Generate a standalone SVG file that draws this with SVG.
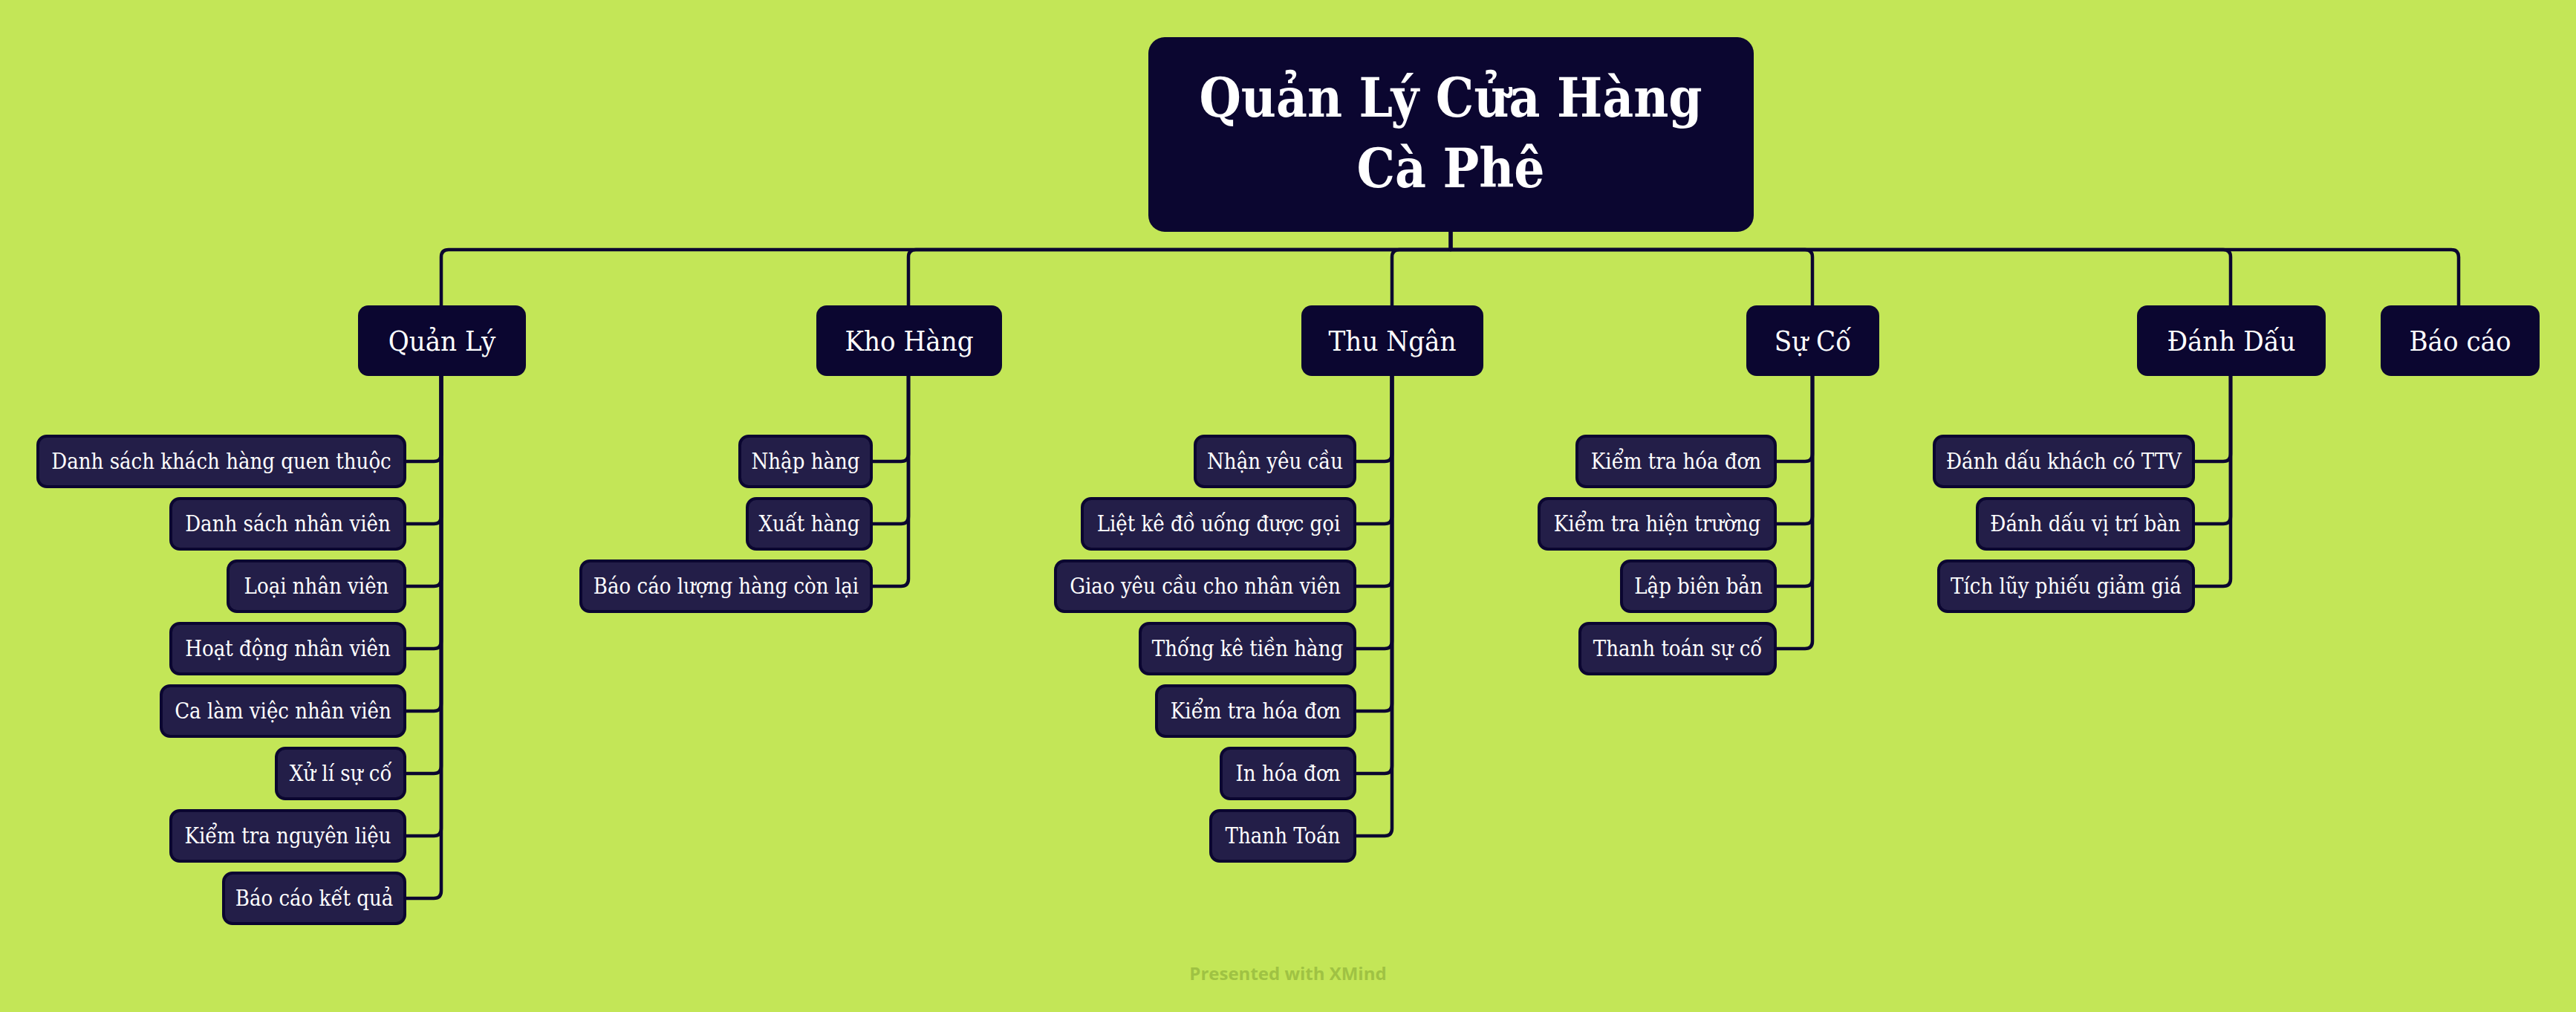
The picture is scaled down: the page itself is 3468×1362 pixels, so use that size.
<svg xmlns="http://www.w3.org/2000/svg" width="3468" height="1362" viewBox="0 0 3468 1362">
<style>
.bg{fill:#c3e657}
.root{fill:#0b0630}
.main{fill:#0b0630}
.sub{fill:#231e48;stroke:#0b0630;stroke-width:4}
.t0{font-family:"DejaVu Serif","Liberation Serif",serif;font-weight:bold;font-size:72px;fill:#ffffff;text-anchor:middle;font-stretch:condensed}
.t1{font-family:"DejaVu Serif","Liberation Serif",serif;font-size:38px;fill:#ffffff;text-anchor:middle;font-stretch:condensed}
.t2{font-family:"DejaVu Serif","Liberation Serif",serif;font-size:29px;fill:#ffffff;text-anchor:middle;font-stretch:condensed}
.ln{fill:none;stroke:#0b0630;stroke-width:4.5;stroke-linejoin:round}
.wm{font-family:"Open Sans","Noto Sans",sans-serif;font-weight:bold;font-size:24px;fill:#9fc243;text-anchor:middle}
</style>
<rect class="bg" x="0" y="0" width="3468" height="1362"/>
<g id="connectors">
<path class="ln" d="M1953,312 V336 H604 Q594,336 594,346 V411"/>
<path class="ln" d="M1953,312 V336 H1233 Q1223,336 1223,346 V411"/>
<path class="ln" d="M1953,312 V336 H1884 Q1874,336 1874,346 V411"/>
<path class="ln" d="M1953,312 V336 H2430 Q2440,336 2440,346 V411"/>
<path class="ln" d="M1953,312 V336 H2993 Q3003,336 3003,346 V411"/>
<path class="ln" d="M1953,312 V336 H3300 Q3310,336 3310,346 V411"/>
<path class="ln" d="M594,506 V611 Q594,621 584,621 H545"/>
<path class="ln" d="M594,506 V695 Q594,705 584,705 H545"/>
<path class="ln" d="M594,506 V779 Q594,789 584,789 H545"/>
<path class="ln" d="M594,506 V863 Q594,873 584,873 H545"/>
<path class="ln" d="M594,506 V947 Q594,957 584,957 H545"/>
<path class="ln" d="M594,506 V1031 Q594,1041 584,1041 H545"/>
<path class="ln" d="M594,506 V1115 Q594,1125 584,1125 H545"/>
<path class="ln" d="M594,506 V1199 Q594,1209 584,1209 H545"/>
<path class="ln" d="M1223,506 V611 Q1223,621 1213,621 H1173"/>
<path class="ln" d="M1223,506 V695 Q1223,705 1213,705 H1173"/>
<path class="ln" d="M1223,506 V779 Q1223,789 1213,789 H1173"/>
<path class="ln" d="M1874,506 V611 Q1874,621 1864,621 H1824"/>
<path class="ln" d="M1874,506 V695 Q1874,705 1864,705 H1824"/>
<path class="ln" d="M1874,506 V779 Q1874,789 1864,789 H1824"/>
<path class="ln" d="M1874,506 V863 Q1874,873 1864,873 H1824"/>
<path class="ln" d="M1874,506 V947 Q1874,957 1864,957 H1824"/>
<path class="ln" d="M1874,506 V1031 Q1874,1041 1864,1041 H1824"/>
<path class="ln" d="M1874,506 V1115 Q1874,1125 1864,1125 H1824"/>
<path class="ln" d="M2440,506 V611 Q2440,621 2430,621 H2390"/>
<path class="ln" d="M2440,506 V695 Q2440,705 2430,705 H2390"/>
<path class="ln" d="M2440,506 V779 Q2440,789 2430,789 H2390"/>
<path class="ln" d="M2440,506 V863 Q2440,873 2430,873 H2390"/>
<path class="ln" d="M3003,506 V611 Q3003,621 2993,621 H2953"/>
<path class="ln" d="M3003,506 V695 Q3003,705 2993,705 H2953"/>
<path class="ln" d="M3003,506 V779 Q3003,789 2993,789 H2953"/>
</g>
<g id="root"><rect class="root" x="1546" y="50" width="815" height="262" rx="22"/><text class="t0" x="1953" y="157">Quản Lý Cửa Hàng</text><text class="t0" x="1953" y="252">Cà Phê</text></g>
<g id="quan-ly"><rect class="main" x="482" y="411" width="226" height="95" rx="14"/><text class="t1" x="595" y="472">Quản Lý</text></g>
<g id="kho-hang"><rect class="main" x="1099" y="411" width="250" height="95" rx="14"/><text class="t1" x="1224" y="472">Kho Hàng</text></g>
<g id="thu-ngan"><rect class="main" x="1752" y="411" width="245" height="95" rx="14"/><text class="t1" x="1874.5" y="472">Thu Ngân</text></g>
<g id="su-co"><rect class="main" x="2351" y="411" width="179" height="95" rx="14"/><text class="t1" x="2440.5" y="472">Sự Cố</text></g>
<g id="danh-dau"><rect class="main" x="2877" y="411" width="254" height="95" rx="14"/><text class="t1" x="3004" y="472">Đánh Dấu</text></g>
<g id="bao-cao"><rect class="main" x="3205" y="411" width="214" height="95" rx="14"/><text class="t1" x="3312" y="472">Báo cáo</text></g>
<g id="ql-1"><rect class="sub" x="51" y="587" width="494" height="68" rx="12"/><text class="t2" x="298" y="631">Danh sách khách hàng quen thuộc</text></g>
<g id="ql-2"><rect class="sub" x="230" y="671" width="315" height="68" rx="12"/><text class="t2" x="387.5" y="715">Danh sách nhân viên</text></g>
<g id="ql-3"><rect class="sub" x="307" y="755" width="238" height="68" rx="12"/><text class="t2" x="426" y="799">Loại nhân viên</text></g>
<g id="ql-4"><rect class="sub" x="230" y="839" width="315" height="68" rx="12"/><text class="t2" x="387.5" y="883">Hoạt động nhân viên</text></g>
<g id="ql-5"><rect class="sub" x="217" y="923" width="328" height="68" rx="12"/><text class="t2" x="381" y="967">Ca làm việc nhân viên</text></g>
<g id="ql-6"><rect class="sub" x="372" y="1007" width="173" height="68" rx="12"/><text class="t2" x="458.5" y="1051">Xử lí sự cố</text></g>
<g id="ql-7"><rect class="sub" x="230" y="1091" width="315" height="68" rx="12"/><text class="t2" x="387.5" y="1135">Kiểm tra nguyên liệu</text></g>
<g id="ql-8"><rect class="sub" x="301" y="1175" width="244" height="68" rx="12"/><text class="t2" x="423" y="1219">Báo cáo kết quả</text></g>
<g id="kh-1"><rect class="sub" x="996" y="587" width="177" height="68" rx="12"/><text class="t2" x="1084.5" y="631">Nhập hàng</text></g>
<g id="kh-2"><rect class="sub" x="1006" y="671" width="167" height="68" rx="12"/><text class="t2" x="1089.5" y="715">Xuất hàng</text></g>
<g id="kh-3"><rect class="sub" x="782" y="755" width="391" height="68" rx="12"/><text class="t2" x="977.5" y="799">Báo cáo lượng hàng còn lại</text></g>
<g id="tn-1"><rect class="sub" x="1609" y="587" width="215" height="68" rx="12"/><text class="t2" x="1716.5" y="631">Nhận yêu cầu</text></g>
<g id="tn-2"><rect class="sub" x="1457" y="671" width="367" height="68" rx="12"/><text class="t2" x="1640.5" y="715">Liệt kê đồ uống được gọi</text></g>
<g id="tn-3"><rect class="sub" x="1421" y="755" width="403" height="68" rx="12"/><text class="t2" x="1622.5" y="799">Giao yêu cầu cho nhân viên</text></g>
<g id="tn-4"><rect class="sub" x="1535" y="839" width="289" height="68" rx="12"/><text class="t2" x="1679.5" y="883">Thống kê tiền hàng</text></g>
<g id="tn-5"><rect class="sub" x="1557" y="923" width="267" height="68" rx="12"/><text class="t2" x="1690.5" y="967">Kiểm tra hóa đơn</text></g>
<g id="tn-6"><rect class="sub" x="1644" y="1007" width="180" height="68" rx="12"/><text class="t2" x="1734" y="1051">In hóa đơn</text></g>
<g id="tn-7"><rect class="sub" x="1630" y="1091" width="194" height="68" rx="12"/><text class="t2" x="1727" y="1135">Thanh Toán</text></g>
<g id="sc-1"><rect class="sub" x="2123" y="587" width="267" height="68" rx="12"/><text class="t2" x="2256.5" y="631">Kiểm tra hóa đơn</text></g>
<g id="sc-2"><rect class="sub" x="2072" y="671" width="318" height="68" rx="12"/><text class="t2" x="2231" y="715">Kiểm tra hiện trường</text></g>
<g id="sc-3"><rect class="sub" x="2183" y="755" width="207" height="68" rx="12"/><text class="t2" x="2286.5" y="799">Lập biên bản</text></g>
<g id="sc-4"><rect class="sub" x="2127" y="839" width="263" height="68" rx="12"/><text class="t2" x="2258.5" y="883">Thanh toán sự cố</text></g>
<g id="dd-1"><rect class="sub" x="2604" y="587" width="349" height="68" rx="12"/><text class="t2" x="2778.5" y="631">Đánh dấu khách có TTV</text></g>
<g id="dd-2"><rect class="sub" x="2662" y="671" width="291" height="68" rx="12"/><text class="t2" x="2807.5" y="715">Đánh dấu vị trí bàn</text></g>
<g id="dd-3"><rect class="sub" x="2610" y="755" width="343" height="68" rx="12"/><text class="t2" x="2781.5" y="799">Tích lũy phiếu giảm giá</text></g>
<text class="wm" x="1734" y="1319">Presented with XMind</text>
</svg>
